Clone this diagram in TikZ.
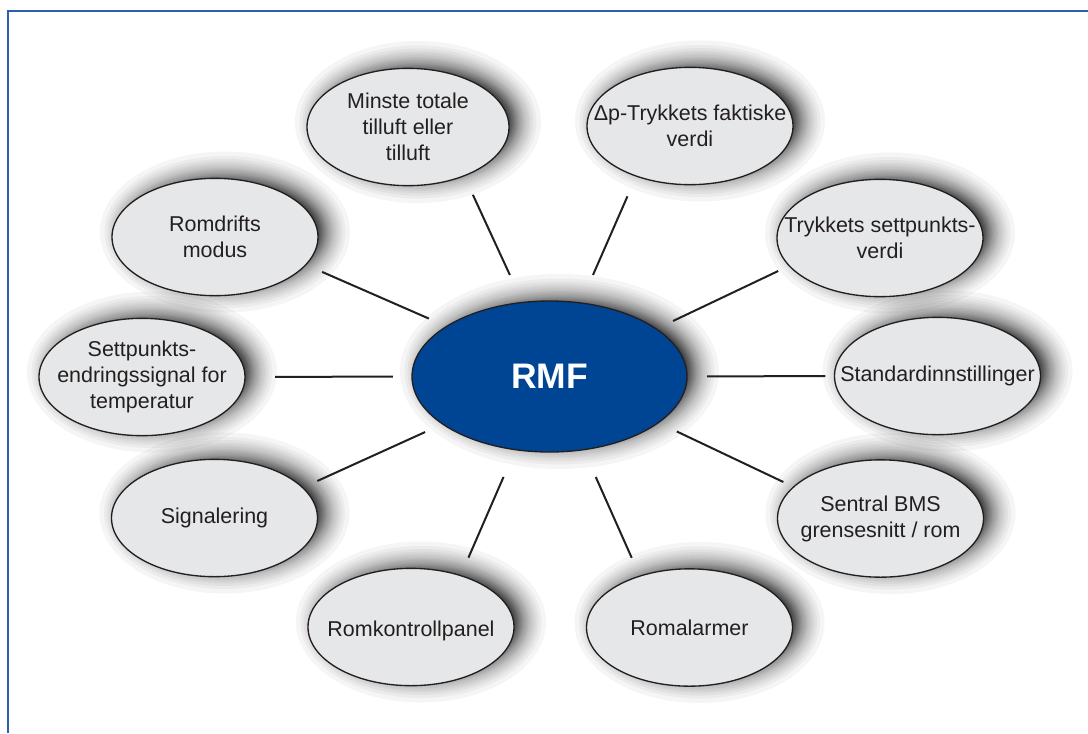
\documentclass[tikz,border=0pt]{standalone}
\usepackage{fontspec}
\setmainfont{Liberation Sans}
\usetikzlibrary{shapes.geometric,backgrounds}
\definecolor{ink}{RGB}{35,31,32}
\definecolor{bubble}{RGB}{230,231,232}
\definecolor{rmfblue}{RGB}{0,68,148}
\definecolor{frameblue}{RGB}{45,95,175}
\tikzset{
  bub/.style={ellipse, draw=ink, line width=1pt, fill=bubble, minimum width=154.5pt, minimum height=88pt, inner sep=0pt, outer sep=0pt},
  hub/.style={ellipse, draw=ink, line width=1pt, fill=rmfblue, minimum width=206.25pt, minimum height=113.25pt, inner sep=0pt, outer sep=0pt, text=white, font=\fontsize{26.6}{30}\selectfont\bfseries},
  txt/.style={font=\fontsize{16.1}{19.5}\selectfont, text=ink, align=center, inner sep=0pt},
  spoke/.style={draw=ink, line width=1.5pt},
  shadowlayer/.style={fill=black, fill opacity=0.04},
}
\begin{document}
\begin{tikzpicture}[x=0.75pt,y=-0.75pt]
\useasboundingbox (0,0) rectangle (1088,733);

\node[hub] (rmf) at (549.5,376.5) {RMF};

\node[bub, minimum width=151.5pt, label={[txt]center:{Minste totale\\tilluft eller\\tilluft}}] (n1) at (408,127) {};
\node[bub, label={[txt]center:{Δp-Trykkets faktiske\\verdi}}] (n2) at (690,126) {};
\node[bub, label={[txt]center:{Romdrifts\\modus}}] (n3) at (215,237) {};
\node[bub, label={[txt]center:{Trykkets settpunkts-\\verdi}}] (n4) at (880,238) {};
\node[bub, label={[txt]center:{Settpunkts-\\endringssignal for\\temperatur}}] (n5) at (142,377) {};
\node[bub, label={[txt]center:{Standardinnstillinger}}] (n6) at (937.5,376) {};
\node[bub, label={[txt]center:{Signalering}}] (n7) at (214.5,518) {};
\node[bub, label={[txt]center:{Sentral BMS\\grensesnitt / rom}}] (n8) at (880.5,518.5) {};
\node[bub, label={[txt, yshift=-3pt]center:{Romkontrollpanel}}] (n9) at (411,627) {};
\node[bub, label={[txt]center:{Romalarmer}}] (n10) at (689.5,627.5) {};

\begin{pgfonlayer}{background}
\fill[white] (0,0) rectangle (1088,733);
\foreach \n/\rx/\ry in {rmf/137.5/75.5, n1/101/59, n2/103/58.5, n3/103/58.5, n4/103/58.5, n5/103/58.5, n6/103/58.5, n7/103/58.5, n8/103/58.5, n9/103/58.5, n10/103/58.5}{
  \foreach \d in {-12,-11.5,-11,-10.5,-10,-9.5,-9,-8.5,-8,-7.5,-7,-6.5,-6,-5.5,-5,-4.3,-3.6,-2.9,-2.2,-1.5,-0.8,0,1.2,2.4,3.6,4.8,6,8,10,12,14.5,17.5,22}{
    \fill[shadowlayer] ([shift={(10,-5)}]\n.center) ellipse [x radius={\rx+(\d)}, y radius={\ry+(\d)}];
  }
}
\end{pgfonlayer}

\draw[frameblue, line width=1.5pt] (8,733) -- (8,11) -- (1088,11);

\draw[spoke, shorten <=22.7pt, shorten >=15.7pt] (rmf.110) -- (n1.-41);
\draw[spoke, shorten <=22.9pt, shorten >=16.6pt] (rmf.67) -- (n2.-137);
\draw[spoke, shorten <=14.6pt, shorten >=13.4pt] (rmf.154) -- (n3.-17);
\draw[spoke, shorten <=13.9pt, shorten >=9.2pt] (rmf.24) -- (n4.-163);
\draw[spoke, shorten <=14.3pt, shorten >=22.5pt] (rmf.180) -- (n5.0);
\draw[spoke, shorten <=15pt, shorten >=6.8pt] (rmf.0) -- (n6.180);
\draw[spoke, shorten <=14.5pt, shorten >=12.1pt] (rmf.-156) -- (n7.19);
\draw[spoke, shorten <=15.4pt, shorten >=8.6pt] (rmf.-23) -- (n8.160);
\draw[spoke, shorten <=22.3pt, shorten >=14.7pt] (rmf.-115) -- (n9.46);
\draw[spoke, shorten <=22.5pt, shorten >=15pt] (rmf.-65) -- (n10.134);
\end{tikzpicture}
\end{document}
